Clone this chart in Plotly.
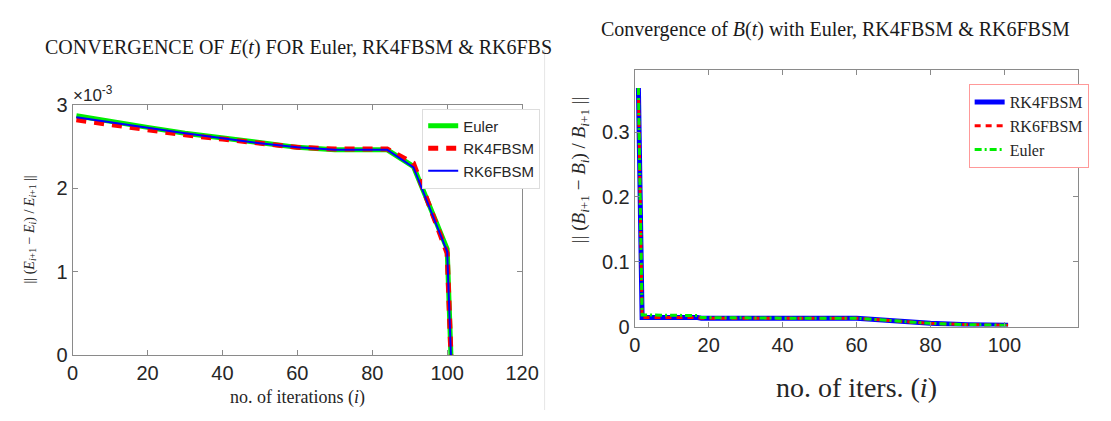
import plotly.graph_objects as go

W, H = 1111, 421

# ---- E(t): relative change per iteration (values in units of 1e-3)
iter_E = [1, 10, 20, 30, 40, 50, 60, 70, 84, 91, 100, 101]
euler_E = [2.87, 2.80, 2.73, 2.66, 2.60, 2.54, 2.49, 2.46, 2.46, 2.26, 1.27, 0.0]
rk4_E = [2.82, 2.76, 2.70, 2.64, 2.59, 2.54, 2.49, 2.47, 2.47, 2.30, 1.22, 0.0]
rk6_E = [2.85, 2.79, 2.72, 2.66, 2.60, 2.54, 2.49, 2.46, 2.46, 2.25, 1.24, 0.0]

# ---- B(t): relative change per iteration
iter_B = [1, 2, 17, 18, 40, 60, 70, 80, 90, 101]
rk4_B = [0.368, 0.014, 0.014, 0.013, 0.013, 0.013, 0.009, 0.005, 0.003, 0.002]
rk6_B = [0.368, 0.014, 0.014, 0.013, 0.013, 0.013, 0.009, 0.005, 0.003, 0.002]
euler_B = [0.368, 0.018, 0.017, 0.014, 0.013, 0.013, 0.009, 0.005, 0.003, 0.002]

left_xticks = [0, 20, 40, 60, 80, 100, 120]
left_yticks = [0, 1, 2, 3]
right_xticks = [0, 20, 40, 60, 80, 100]
right_yticks = [0, 0.1, 0.2, 0.3]

SANS = "Liberation Sans, Arial, sans-serif"
SERIF = "Liberation Serif, Times New Roman, serif"
AX = "#8a8a8a"


def px_x(p):
    return p / W


def px_y(p):
    return 1 - p / H


fig = go.Figure()

# left panel traces
fig.add_trace(go.Scatter(x=iter_E, y=euler_E, name="Euler", mode="lines",
                         line=dict(color="#00ee00", width=5), xaxis="x", yaxis="y",
                         legend="legend"))
fig.add_trace(go.Scatter(x=iter_E, y=rk4_E, name="RK4FBSM", mode="lines",
                         line=dict(color="#ff0000", width=5, dash="10px,8px"),
                         xaxis="x", yaxis="y", legend="legend"))
fig.add_trace(go.Scatter(x=iter_E, y=rk6_E, name="RK6FBSM", mode="lines",
                         line=dict(color="#0000ff", width=2), xaxis="x", yaxis="y",
                         legend="legend"))

# right panel traces
fig.add_trace(go.Scatter(x=iter_B, y=rk4_B, name="RK4FBSM", mode="lines",
                         line=dict(color="#0000ff", width=5), xaxis="x2", yaxis="y2",
                         legend="legend2"))
fig.add_trace(go.Scatter(x=iter_B, y=rk6_B, name="RK6FBSM", mode="lines",
                         line=dict(color="#ff0000", width=3, dash="6px,5px"),
                         xaxis="x2", yaxis="y2", legend="legend2"))
fig.add_trace(go.Scatter(x=iter_B, y=euler_B, name="Euler", mode="lines",
                         line=dict(color="#00ee00", width=3, dash="7px,3px,2px,3px"),
                         xaxis="x2", yaxis="y2", legend="legend2"))

axis_common = dict(showgrid=False, zeroline=False, showline=True, linecolor=AX,
                   linewidth=1, mirror="ticks", ticks="inside", ticklen=5,
                   tickcolor=AX, tickfont=dict(family=SANS, size=20, color="#262626"))

fig.update_layout(
    width=W, height=H,
    margin=dict(l=0, r=0, t=0, b=0),
    paper_bgcolor="white", plot_bgcolor="white",
    xaxis=dict(domain=[px_x(68), px_x(527)], range=[0, 120], tickvals=left_xticks,
               anchor="y", **axis_common),
    yaxis=dict(domain=[px_y(363), px_y(99)], range=[0, 3], tickvals=left_yticks,
               anchor="x", **axis_common),
    xaxis2=dict(domain=[px_x(642), px_x(1095)], range=[0, 120], tickvals=right_xticks,
                anchor="y2", **axis_common),
    yaxis2=dict(domain=[px_y(333), px_y(62)], range=[0, 0.396], tickvals=right_yticks,
                anchor="x2", **axis_common),
    legend=dict(x=px_x(425), y=px_y(103), xanchor="left", yanchor="top",
                bgcolor="white", bordercolor="#dddddd", borderwidth=1,
                font=dict(family=SANS, size=15, color="#262626"),
                tracegroupgap=0, itemwidth=30),
    legend2=dict(x=px_x(983), y=px_y(77), xanchor="left", yanchor="top",
                 bgcolor="white", bordercolor="#ff9999", borderwidth=1,
                 font=dict(family=SERIF, size=16, color="#262626"),
                 tracegroupgap=0, itemwidth=30),
    showlegend=True,
)

annotations = [
    dict(text="CONVERGENCE OF <i>E</i>(<i>t</i>) FOR Euler, RK4FBSM &amp; RK6FBS",
         x=px_x(38), y=px_y(38), xanchor="left", yanchor="middle",
         font=dict(family=SERIF, size=20, color="#1a1a1a")),
    dict(text="×10<sup>-3</sup>", x=px_x(66), y=px_y(88), xanchor="left",
         yanchor="middle", font=dict(family=SANS, size=17, color="#262626")),
    dict(text="|| (<i>E</i><sub><i>i</i>+1</sub> − <i>E</i><sub><i>i</i></sub>) / <i>E</i><sub><i>i</i>+1</sub> ||",
         x=px_x(25), y=px_y(230), textangle=-90, xanchor="center", yanchor="middle",
         font=dict(family=SERIF, size=14, color="#262626")),
    dict(text="no. of iterations (<i>i</i>)", x=px_x(298), y=px_y(408),
         xanchor="center", yanchor="middle",
         font=dict(family=SERIF, size=18, color="#262626")),
    dict(text="Convergence of <i>B</i>(<i>t</i>) with Euler, RK4FBSM &amp; RK6FBSM",
         x=px_x(847), y=px_y(20), xanchor="center", yanchor="middle",
         font=dict(family=SERIF, size=20, color="#1a1a1a")),
    dict(text="|| (<i>B</i><sub><i>i</i>+1</sub> − <i>B</i><sub><i>i</i></sub>) / <i>B</i><sub><i>i</i>+1</sub> ||",
         x=px_x(586), y=px_y(167), textangle=-90, xanchor="center", yanchor="middle",
         font=dict(family=SERIF, size=19, color="#262626")),
    dict(text="no. of iters. (<i>i</i>)", x=px_x(868), y=px_y(397),
         xanchor="center", yanchor="middle",
         font=dict(family=SERIF, size=28, color="#262626")),
]
for a in annotations:
    a.update(xref="paper", yref="paper", showarrow=False)
fig.update_layout(annotations=annotations)

# faint divider between the two panels
fig.add_shape(type="line", xref="paper", yref="paper", x0=px_x(550), x1=px_x(550),
              y0=px_y(40), y1=px_y(421), line=dict(color="#e6e6e6", width=1))

fig.write_html("out.html")
